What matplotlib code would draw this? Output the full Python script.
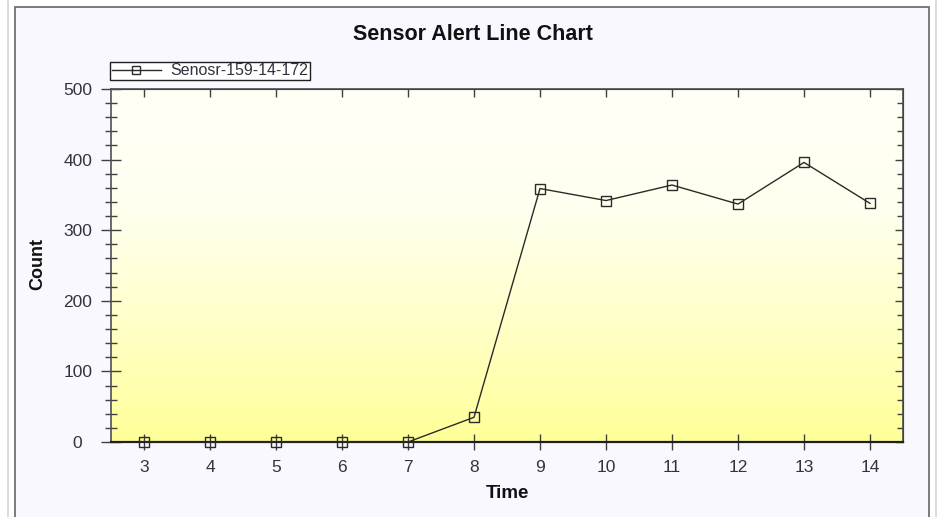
import matplotlib.pyplot as plt
import numpy as np
from matplotlib.patches import Rectangle
from matplotlib.lines import Line2D
from matplotlib.colors import LinearSegmentedColormap

plt.rcParams['font.family'] = ['Liberation Sans', 'DejaVu Sans']

# data
times = [3, 4, 5, 6, 7, 8, 9, 10, 11, 12, 13, 14]
counts = [0, 0, 0, 0, 0, 35, 359, 342, 364, 337, 396, 338]
series_name = 'Senosr-159-14-172'

W, H = 942, 517
fig = plt.figure(figsize=(W/100, H/100), dpi=100)
fig.patch.set_facecolor('white')

# outer frames
fig.add_artist(Line2D([7.5/W, 7.5/W], [0, 1], color='#d4d4d4', lw=1.2, transform=fig.transFigure))
fig.add_artist(Line2D([935.5/W, 935.5/W], [0, 1], color='#d4d4d4', lw=1.2, transform=fig.transFigure))
fig.add_artist(Rectangle((15/W, -0.05), (929-15)/W, 1.05-7/H, transform=fig.transFigure,
                         facecolor='#f8f8fe', edgecolor='#707070', lw=1.3, zorder=-5))

ax = fig.add_axes([111/W, 1-442/H, (903-111)/W, (442-89)/H])

# yellow gradient background, light at top
grad = np.linspace(0, 1, 256).reshape(-1, 1)
cmap = LinearSegmentedColormap.from_list('yel', ['#fffff6', '#fffff0', '#ffffc8', '#ffff98'])
ax.imshow(grad, aspect='auto', cmap=cmap, extent=[2.5, 14.5, 0, 500], zorder=0, origin='upper')
ax.set_xlim(2.5, 14.5)
ax.set_ylim(0, 500)

ax.plot(times, counts, color='#2a2a2a', lw=1.0, marker='s', markersize=7.5,
        markerfacecolor='none', markeredgecolor='#2a2a2a', markeredgewidth=1.0,
        label=series_name, zorder=3, clip_on=False)

for s in ax.spines.values():
    s.set_color('#505050')
    s.set_linewidth(1.2)
ax.spines['bottom'].set_color('#202020')
ax.spines['bottom'].set_linewidth(1.6)

ax.set_xticks(times)
ax.set_yticks([0, 100, 200, 300, 400, 500])
ax.set_yticks(np.arange(0, 501, 20), minor=True)
ax.tick_params(axis='x', which='major', direction='inout', length=12, width=1, color='#404040',
               labelsize=12.5, labelcolor='#333340', pad=7)
ax.tick_params(axis='y', which='major', direction='inout', length=14, width=1, color='#404040',
               labelsize=12.5, labelcolor='#333340', pad=17)
ax.tick_params(axis='y', which='minor', direction='inout', length=8, width=1, color='#404040')
for lab in ax.get_yticklabels():
    lab.set_ha('center')

# top and right inward ticks
top = ax.secondary_xaxis('top')
top.set_xticks(times)
top.tick_params(direction='in', length=6, width=1, color='#404040', labeltop=False)
right = ax.secondary_yaxis('right')
right.set_yticks([0, 100, 200, 300, 400, 500])
right.set_yticks(np.arange(0, 501, 20), minor=True)
right.tick_params(which='major', direction='in', length=6, width=1, color='#404040', labelright=False)
right.tick_params(which='minor', direction='in', length=4, width=1, color='#404040')

fig.text(473/W, 1-34/H, 'Sensor Alert Line Chart', ha='center', va='center',
         fontsize=15.5, fontweight='bold', color='#111111')
fig.text(38/W, 1-264/H, 'Count', ha='center', va='center', rotation=90,
         fontsize=13, fontweight='bold', color='#111111')
fig.text(507/W, 1-494/H, 'Time', ha='center', va='center',
         fontsize=13.5, fontweight='bold', color='#111111')

leg = ax.legend(loc='lower left', bbox_to_anchor=(110/W, 1-80/H), bbox_transform=fig.transFigure,
                frameon=True, fancybox=False, edgecolor='#202020', facecolor='white', framealpha=1,
                fontsize=11.5, borderpad=0.1, handlelength=3.1, handletextpad=0.6,
                borderaxespad=0, markerscale=0.8)
leg.get_frame().set_linewidth(1.0)
leg._legend_box.sep = 0
for t in leg.get_texts():
    t.set_color('#333340')
# widen the frame a little to the right, like the original box
fig.canvas.draw()
bb = leg.get_frame().get_bbox()
leg.get_frame().set_width(bb.width + 8)

fig.savefig('out.png', dpi=100, facecolor=fig.get_facecolor())
